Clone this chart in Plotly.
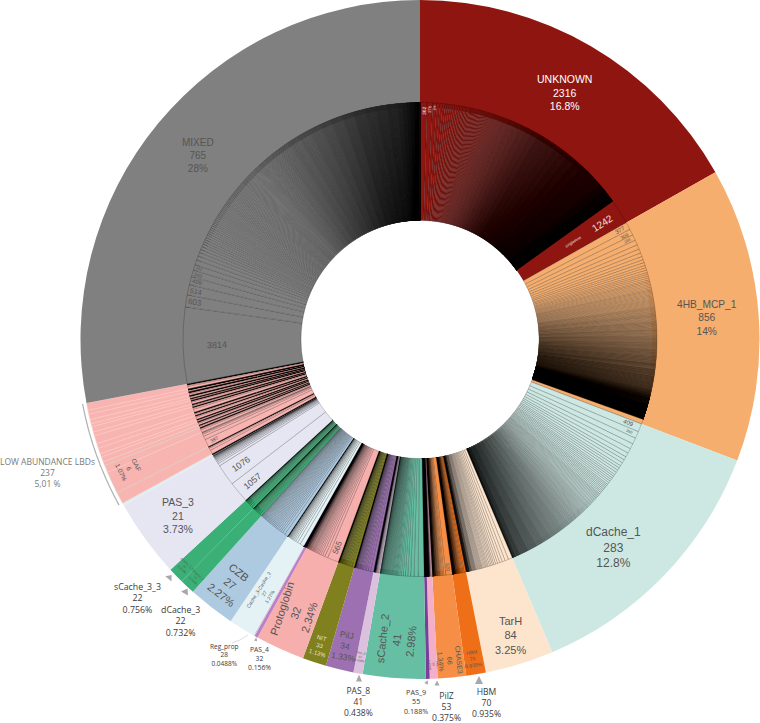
import numpy as np
import plotly.graph_objects as go

# run-length lists: cluster sizes (sequences) and how many clusters have that size
unknown_sizes = [362, 276, 196, 158, 132, 118, 100, 85, 70, 55, 48, 42, 37, 32, 28, 24, 21, 18, 16, 14, 12, 11, 10, 9, 8, 7, 6, 5, 4, 3, 2, 1242]
unknown_counts = [1, 1, 1, 1, 1, 1, 4, 5, 6, 10, 6, 7, 8, 9, 11, 13, 15, 18, 20, 24, 30, 32, 36, 40, 50, 60, 80, 230, 100, 180, 74, 1]
hb4_sizes = [377, 309, 288, 250, 225, 205, 185, 170, 150, 120, 95, 75, 60, 50, 42, 36, 31, 27, 23, 20, 17, 15, 13, 11, 10, 9, 8, 7, 6, 5, 4, 3, 2, 236]
hb4_counts = [1, 1, 1, 1, 1, 1, 1, 1, 2, 3, 4, 6, 8, 8, 9, 10, 12, 13, 15, 17, 20, 22, 25, 30, 32, 34, 10, 12, 14, 18, 30, 120, 373, 1]
dcache1_sizes = [409, 350, 310, 270, 240, 215, 170, 130, 100, 75, 55, 48, 42, 37, 33, 29, 26, 23, 20, 18, 16, 14, 12, 10, 8, 6, 3]
dcache1_counts = [1, 1, 1, 1, 1, 1, 3, 4, 6, 8, 10, 5, 6, 7, 8, 9, 12, 15, 20, 20, 25, 30, 40, 45, 30, 20, 13]
tarh_sizes = [210, 175, 150, 130, 115, 100, 90, 75, 60, 40, 22, 12, 5, 3]
tarh_counts = [1, 1, 1, 1, 1, 1, 1, 4, 5, 8, 10, 10, 20, 20]
hbm_sizes = [95, 70, 55, 45, 35, 30, 20, 12, 5, 3, 2]
hbm_counts = [1, 1, 1, 1, 1, 1, 5, 8, 16, 10, 25]
chase3_sizes = [320, 100, 70, 55, 45, 35, 22, 13, 6, 2]
chase3_counts = [1, 1, 1, 1, 1, 1, 5, 8, 14, 33]
pilz_sizes = [60, 35, 22, 15, 6, 3, 2]
pilz_counts = [1, 1, 1, 1, 8, 11, 30]
pas9_sizes = [16, 8, 2]
pas9_counts = [1, 1, 53]
scache2_sizes = [290, 210, 170, 140, 120, 105, 92, 80, 70, 60, 50, 42, 36, 30, 25, 20, 16, 12, 6]
scache2_counts = [1, 1, 1, 1, 1, 1, 1, 1, 1, 1, 4, 4, 4, 4, 3, 3, 2, 2, 5]
pas8_sizes = [70, 50, 35, 25, 15, 5, 2]
pas8_counts = [1, 1, 1, 1, 3, 10, 24]
pilj_sizes = [150, 120, 95, 80, 70, 60, 50, 45, 35, 22, 8, 2]
pilj_counts = [1, 1, 1, 1, 1, 1, 1, 1, 4, 4, 6, 12]
nit_sizes = [130, 100, 80, 70, 60, 50, 45, 40, 30, 18, 3]
nit_counts = [1, 1, 1, 1, 1, 1, 1, 1, 4, 5, 16]
protoglobin_sizes = [565, 150, 120, 100, 85, 75, 65, 58, 52, 47, 35, 22, 12, 7]
protoglobin_counts = [1, 1, 1, 1, 1, 1, 1, 1, 1, 1, 5, 5, 6, 6]
pas4_sizes = [15, 8, 4, 3]
pas4_counts = [1, 1, 4, 26]
regprop_sizes = [3, 1]
regprop_counts = [4, 24]
cache32_sizes = [210, 150, 110, 85, 70, 55, 45, 38, 32, 26, 20, 10, 1]
cache32_counts = [1, 1, 1, 1, 1, 1, 1, 1, 1, 1, 3, 4, 10]
czb_sizes = [180, 130, 95, 90, 85, 80, 75, 70, 68, 65, 62, 60, 58, 55, 52, 50, 48, 45, 42, 40, 38, 35, 32, 28, 25, 20]
czb_counts = [1, 1, 1, 1, 1, 1, 1, 1, 1, 1, 1, 1, 1, 1, 1, 1, 1, 1, 1, 1, 1, 1, 1, 1, 1, 2]
dcache3_sizes = [110, 80, 60, 50, 40, 35, 30, 25, 20, 15, 8, 2]
dcache3_counts = [1, 1, 1, 1, 1, 1, 1, 1, 1, 3, 3, 7]
scache33_sizes = [120, 85, 65, 50, 40, 35, 30, 25, 20, 15, 8, 2]
scache33_counts = [1, 1, 1, 1, 1, 1, 1, 1, 1, 3, 3, 7]
pas3_sizes = [1057, 1076, 130, 90, 70, 55, 45, 35, 30, 25, 20, 16, 10, 7]
pas3_counts = [1, 1, 1, 1, 1, 1, 1, 1, 1, 1, 1, 3, 3, 4]
sliver_sizes = [30, 15, 8, 4, 2]
sliver_counts = [1, 1, 1, 2, 12]
mixed_sizes = [3814, 603, 514, 406, 340, 281, 240, 210, 185, 165, 150, 135, 120, 105, 90, 78, 66, 55, 45, 40, 36, 33, 30, 27, 24, 22, 20, 18, 16, 14, 12, 11, 10, 9, 8, 7, 6, 5, 4, 3, 2]
mixed_counts = [1, 1, 1, 1, 1, 1, 1, 1, 1, 1, 1, 1, 4, 5, 6, 8, 10, 14, 18, 8, 12, 12, 16, 20, 25, 28, 30, 32, 38, 42, 50, 50, 55, 60, 30, 30, 30, 40, 40, 30, 10]

# the low abundance LBDs, clockwise from PAS_3
low_sizes = [
    [200, 110, 50, 20, 4, 2], [387, 180, 110, 60, 30, 18], [120, 60, 30, 8, 2], [70, 30, 10, 2],
    [90, 40, 15, 3], [60, 25, 8, 2], [110, 50, 20, 4, 2], [80, 35, 10, 2],
    [150, 70, 30, 6, 2], [60, 30, 12, 2], [100, 45, 18, 4, 2], [50, 25, 8, 2],
    [70, 30, 12, 3, 2], [80, 40, 15, 2], [60, 30, 2], [120, 60, 20, 2],
]
low_counts = [
    [1, 1, 1, 1, 2, 6], [1, 1, 1, 1, 1, 1], [1, 1, 1, 3, 8], [1, 1, 2, 6],
    [1, 1, 2, 8], [1, 1, 2, 8], [1, 1, 1, 3, 6], [1, 1, 3, 10],
    [1, 1, 1, 3, 8], [1, 1, 2, 9], [1, 1, 1, 3, 8], [1, 1, 2, 8],
    [1, 1, 1, 4, 12], [1, 1, 2, 20], [1, 1, 25], [1, 1, 2, 14],
]

names = ["UNKNOWN", "4HB_MCP_1", "dCache_1", "TarH", "HBM", "CHASE3", "PilZ", "PAS_9", "sCache_2", "PAS_8",
         "PilJ", "NIT", "Protoglobin", "PAS_4", "Reg_prop", "Cache_3-Cache_2", "CZB", "dCache_3", "sCache_3_3",
         "PAS_3", "sliver"]
colors = ["#8f1610", "#f6ae6e", "#cde8e2", "#fde4cd", "#ee6f17", "#f68f45", "#f4afc8", "#7a3f9d", "#66bfa3",
          "#dcc1de", "#9c70b1", "#80801f", "#f7afad", "#bf7fc8", "#c9c9c9", "#e5f2f5", "#aecae1", "#3ab076",
          "#3ab076", "#e6e6f3", "#dceff3"]
sizes = [unknown_sizes, hb4_sizes, dcache1_sizes, tarh_sizes, hbm_sizes, chase3_sizes, pilz_sizes, pas9_sizes,
         scache2_sizes, pas8_sizes, pilj_sizes, nit_sizes, protoglobin_sizes, pas4_sizes, regprop_sizes,
         cache32_sizes, czb_sizes, dcache3_sizes, scache33_sizes, pas3_sizes, sliver_sizes]
counts = [unknown_counts, hb4_counts, dcache1_counts, tarh_counts, hbm_counts, chase3_counts, pilz_counts,
          pas9_counts, scache2_counts, pas8_counts, pilj_counts, nit_counts, protoglobin_counts, pas4_counts,
          regprop_counts, cache32_counts, czb_counts, dcache3_counts, scache33_counts, pas3_counts, sliver_counts]

# low abundance slices come next, MIXED closes the circle
for s, c in zip(low_sizes, low_counts):
    names.append("low")
    colors.append("#f8b4b0")
    sizes.append(s)
    counts.append(c)
names.append("MIXED")
colors.append("#808080")
sizes.append(mixed_sizes)
counts.append(mixed_counts)

W, H = 760, 723
CX, CY = 420, 339.5
R_OUT, R_MID, R_HOLE = 339.5, 237, 119

leaves = [np.repeat(s, c) for s, c in zip(sizes, counts)]
group_totals = [int(l.sum()) for l in leaves]
inner_values = np.concatenate(leaves)
inner_colors = np.concatenate([[col] * len(l) for col, l in zip(colors, leaves)])
total = sum(group_totals)
group_starts = np.concatenate([[0], np.cumsum(group_totals)])


def group_angle(name):
    i = names.index(name)
    return (group_starts[i] + group_totals[i] / 2) / total * 360


def leaf_angle(i, k):
    before = leaves[i][:k].sum()
    return (group_starts[i] + before + leaves[i][k] / 2) / total * 360


def polar(angle, r):
    a = np.radians(angle)
    return CX + r * np.sin(a), CY - r * np.cos(a)


def box(r):
    return dict(x=[(CX - r) / W, (CX + r) / W], y=[(H - CY - r) / H, (H - CY + r) / H])


fig = go.Figure()

line_widths = [0.6 if n == "low" else 0 for n in names]
line_colors = ["#fbc9c5" if n == "low" else "rgba(0,0,0,0)" for n in names]
line_colors[names.index("low") + 1] = "#cdd3c4"
line_colors[names.index("low") + 3] = "#cdd3c4"

fig.add_trace(go.Pie(
    values=group_totals, marker=dict(colors=colors, line=dict(width=line_widths, color=line_colors)),
    sort=False, direction="clockwise", rotation=0, hole=R_MID / R_OUT * 0.98,
    textinfo="none", hoverinfo="skip", showlegend=False, domain=box(R_OUT)))
fig.add_trace(go.Pie(
    values=inner_values, marker=dict(colors=inner_colors, line=dict(width=0.2, color="#000000")),
    sort=False, direction="clockwise", rotation=0, hole=R_HOLE / R_MID,
    textinfo="none", hoverinfo="skip", showlegend=False, domain=box(R_MID)))

annotations = []


def label(x, y, text, size, color="#555555", angle=0, family="Liberation Sans"):
    annotations.append(dict(x=x / W, y=1 - y / H, xref="paper", yref="paper", text=text, showarrow=False,
                            font=dict(size=size, color=color, family=family), textangle=angle,
                            xanchor="center", yanchor="middle", align="center"))


# labels inside the outer ring
def outer(name, r, text, size, color="#555555", angle=0, shift=0):
    x, y = polar(group_angle(name) + shift, r)
    label(x, y, text, size, color, angle)


outer("UNKNOWN", 286, "UNKNOWN<br>2316<br>16.8%", 10.5, "#ffffff")
outer("4HB_MCP_1", 288, "4HB_MCP_1<br>856<br>14%", 10.2)
outer("dCache_1", 284, "dCache_1<br>283<br>12.8%", 12, shift=3)
outer("TarH", 310, "TarH<br>84<br>3.25%", 11)
outer("HBM", 323, "HBM<br>70<br>0.935%", 5, angle=-8)
outer("CHASE3", 323, "CHASE3<br>66<br>1.34%", 7, angle=84)
outer("PilZ", 325, "PilZ<br>53<br>0.375%", 3, angle=80)
outer("sCache_2", 301, "sCache_2<br>41<br>2.98%", 11, angle=-84)
outer("PAS_8", 323, "PAS_8<br>41<br>0.438%", 3, angle=10)
outer("PilJ", 315, "PilJ<br>34<br>1.33%", 8.5, angle=10)
outer("NIT", 322, "NIT<br>33<br>1.13%", 6, "#e8e8c8", angle=16)
outer("Protoglobin", 300, "Protoglobin<br>32<br>2.34%", 11, angle=-72)
outer("Cache_3-Cache_2", 298, "Cache_3-Cache_2<br>27<br>1.27%", 5, angle=-58)
outer("CZB", 310, "CZB<br>27<br>2.27%", 11, angle=38)
outer("dCache_3", 327, "dCache_3<br>22<br>0.732%", 3, angle=42)
outer("sCache_3_3", 327, "sCache_3_3<br>22<br>0.756%", 3, angle=42)
outer("PAS_3", 299, "PAS_3<br>21<br>3.73%", 10.5)
outer("MIXED", 288, "MIXED<br>765<br>28%", 10)
x0, y0 = polar(leaf_angle(names.index("low"), 0) + 4.4, 318)
label(x0, y0, "GAF<br>6<br>1.07%", 6.5, angle=64)


# cluster sizes written along the radius of their wedge
def inner(name, k, r, text, size, color="#555555"):
    i = names.index(name)
    a = leaf_angle(i, k)
    x, y = polar(a, r)
    label(x, y, text, size, color, angle=a - 90 if a < 180 else a - 270)


last_unknown = len(leaves[0]) - 1
inner("UNKNOWN", 0, 229, "362", 5, "#eeeeee")
inner("UNKNOWN", 1, 231, "276", 4, "#eeeeee")
inner("UNKNOWN", 2, 232, "196", 3, "#eeeeee")
inner("UNKNOWN", last_unknown, 216, "1242", 10, "#f0e0e0")
inner("UNKNOWN", last_unknown, 182, "singletons", 4, "#f0e0e0")
inner("4HB_MCP_1", 0, 228, "377", 6)
inner("4HB_MCP_1", 1, 229, "309", 5)
inner("4HB_MCP_1", 2, 230, "288", 4)
inner("dCache_1", 0, 225, "409", 6)
inner("dCache_1", 1, 229, "350", 4)
inner("CHASE3", 0, 229, "320", 5)
inner("Protoglobin", 0, 224, "565", 8)
inner("PAS_3", 0, 219, "1057", 9)
inner("PAS_3", 1, 218, "1076", 9)
inner("MIXED", 0, 203, "3814", 9)
inner("MIXED", 1, 228, "603", 8)
inner("MIXED", 2, 229, "514", 7)
inner("MIXED", 3, 230, "406", 6)
inner("MIXED", 4, 231, "340", 5)
inner("MIXED", 5, 232, "281", 4)
i_gaf = names.index("low") + 1
a_gaf = leaf_angle(i_gaf, 0)
x4, y4 = polar(a_gaf, 228)
label(x4, y4, "387", 5, angle=a_gaf - 270)

# callouts outside the circle
GREY = "#7a7a7a"
DARK = "#3a3a3a"
FONT = "Open Sans"
label(47, 472, "LOW ABUNDANCE LBDs<br>237<br>5,01 %", 8.5, GREY, family=FONT)
label(137, 598, "sCache_3_3<br>22<br>0.756%", 8.8, DARK, family=FONT)
label(180, 621, "dCache_3<br>22<br>0.732%", 8.8, DARK, family=FONT)
label(225, 655, "Reg_prop<br>28<br>0.0488%", 6.5, DARK, family=FONT)
label(259, 658, "PAS_4<br>32<br>0.156%", 6.8, DARK, family=FONT)
label(358, 701, "PAS_8<br>41<br>0.438%", 8.5, DARK, family=FONT)
label(416, 701, "PAS_9<br>55<br>0.188%", 7.2, DARK, family=FONT)
label(446, 707, "PilZ<br>53<br>0.375%", 8.6, DARK, family=FONT)
label(486, 703, "HBM<br>70<br>0.935%", 8.6, DARK, family=FONT)

shapes = []


# grey pointers and the bracket around the low abundance part
def pointer(x, y, length, half, angle):
    a = np.radians(angle)
    ux, uy = np.sin(a), -np.cos(a)
    vx, vy = -uy, ux
    tip = (x + ux * length / 2, y + uy * length / 2)
    b1 = (x - ux * length / 2 + vx * half, y - uy * length / 2 + vy * half)
    b2 = (x - ux * length / 2 - vx * half, y - uy * length / 2 - vy * half)
    path = f"M{tip[0]:.1f},{(H - tip[1]):.1f} L{b1[0]:.1f},{(H - b1[1]):.1f} L{b2[0]:.1f},{(H - b2[1]):.1f} Z"
    shapes.append(dict(type="path", xref="x", yref="y", path=path, fillcolor="#a8a8a8", line=dict(width=0)))


pointer(170, 577, 5, 4, 40)
pointer(186, 591, 6, 4, 30)
pointer(256, 639, 4, 1.5, 10)
pointer(359, 678, 7, 3, 0)
pointer(427, 682, 4, 2, 25)
pointer(437, 683, 5, 2.5, 0)
pointer(479, 680, 8, 4, 0)

low_first = names.index("low")
start = group_starts[low_first] / total * 360
end = group_starts[names.index("MIXED")] / total * 360
arc = [polar(a, R_OUT + 4) for a in np.linspace(start, end, 30)]
arc_path = "M" + " L".join(f"{x:.1f},{H - y:.1f}" for x, y in arc)
shapes.append(dict(type="path", xref="x", yref="y", path=arc_path, line=dict(color="#b0b0b0", width=1.2)))
shapes.append(dict(type="path", xref="x", yref="y", path=f"M248,{H - 635} Q240,{H - 641} 232,{H - 643}",
                   line=dict(color="#c4c4c4", width=0.6)))

fig.update_layout(
    width=W, height=H, margin=dict(l=0, r=0, t=0, b=0), paper_bgcolor="white", plot_bgcolor="white",
    showlegend=False, annotations=annotations, shapes=shapes,
    xaxis=dict(range=[0, W], visible=False, fixedrange=True),
    yaxis=dict(range=[0, H], visible=False, fixedrange=True))

# the page's default body margin would push the figure 8px off
fig.write_html("out.html", post_script="document.body.style.margin='0';", config={"displayModeBar": False})
